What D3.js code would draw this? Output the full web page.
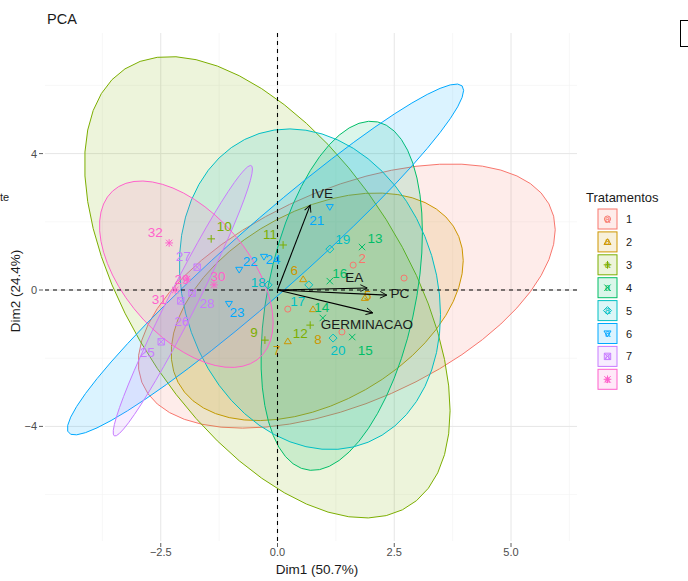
<!DOCTYPE html>
<html>
<head>
<meta charset="utf-8">
<script src="https://cdn.jsdelivr.net/npm/d3@7"></script>
<style>
  html, body { margin: 0; padding: 0; background: #fff; }
  svg { display: block; font-family: "Liberation Sans", Arial, sans-serif; }
</style>
</head>
<body>
<svg id="chart" width="688" height="581"></svg>
<script>
// ---- data -------------------------------------------------------------
const groups = ["1", "2", "3", "4", "5", "6", "7", "8"];
const groupColors = ["#F8766D", "#CD9600", "#7CAE00", "#00BE67", "#00BFC4", "#00A9FF", "#C77CFF", "#FF61CC"];

// individuals (Dim1, Dim2) and their treatment
const indNames = ["1","2","3","4","5","6","7","8","9","10","11","12","13","14","15","16",
                  "17","18","19","20","21","22","23","24","25","26","27","28","29","30","31","32"];
const indGroup = ["1","1","1","1","2","2","2","2","3","3","3","3","4","4","4","4",
                  "5","5","5","5","6","6","6","6","7","7","7","7","8","8","8","8"];
const dim1 = [2.71, 1.62, 1.38, 0.22, 1.87, 0.55, 0.22, 0.76, -0.27, -1.42, 0.12, 0.70, 1.81, 0.97, 1.60, 1.12,
              0.67, -0.20, 1.12, 1.19, 1.12, -0.82, -1.04, -0.29, -2.49, -2.07, -1.72, -1.83, -1.94, -1.36, -2.19, -2.32];
const dim2 = [0.35, 0.73, -1.23, -0.56, -0.23, 0.32, -1.50, -0.56, -1.47, 1.50, 1.32, -1.03, 1.26, -0.82, -1.38, 0.26,
              0.15, 0.15, 1.20, -1.41, 2.43, 0.59, -0.41, 0.97, -1.52, -0.32, 0.67, -0.09, 0.32, 0.15, 0.00, 1.38];
// which individuals carry a visible text label
const indLabelShown = [false, true, false, false, true, true, true, true, true, true, true, true, true, true, true, true,
                       true, true, true, true, true, true, true, true, true, true, true, true, true, true, true, true];
// repelled label offsets (px) from each point
const indLabelDx = [0, 9, 0, 0, 3, -9, -11, 5, -11, 13, -13, -10, 13, -1, 13, 10,
                    -11, -10, 13, 5, -13, 11, 8, 9, -14, 1, -14, 15, -5, 4, -16, -14];
const indLabelDy = [0, -7, 0, 0, -2, -9, 9, 30, -8, -12, -10, 8, -9, -10, 13, -8,
                    17, -2, -10, 12, 13, -8, 9, 3, 11, 21, -11, 10, 0, -8, 9, -10];

// variable loadings (arrows)
const varNames = ["IVE", "EA", "PC", "GERMINACAO"];
const varDim1 = [0.70, 1.92, 2.34, 2.04];
const varDim2 = [2.49, 0.06, -0.15, -0.67];
const varLabelDx = [12, -13, 13, -6];
const varLabelDy = [-12, -10, -2, 12];

const xTicks = [-2.5, 0, 2.5, 5];
const yTicks = [-4, 0, 4];
const xTitle = "Dim1 (50.7%)";
const yTitle = "Dim2 (24.4%)";
const chartTitle = "PCA";
const legendTitle = "Tratamentos";

// ---- layout -----------------------------------------------------------
const svg = d3.select("#chart");
const panel = { left: 45, right: 577, top: 33, bottom: 541 };
const pxPerX = 46.7, pxPerY = 34.1, x0px = 277.5, y0px = 290;

const x = d3.scaleLinear()
  .domain([(panel.left - x0px) / pxPerX, (panel.right - x0px) / pxPerX])
  .range([panel.left, panel.right]);
const y = d3.scaleLinear()
  .domain([(y0px - panel.bottom) / pxPerY, (y0px - panel.top) / pxPerY])
  .range([panel.bottom, panel.top]);
const color = d3.scaleOrdinal().domain(groups).range(groupColors);

const clipId = "panel-clip";
svg.append("defs").append("clipPath").attr("id", clipId)
  .append("rect").attr("x", panel.left).attr("y", panel.top)
  .attr("width", panel.right - panel.left).attr("height", panel.bottom - panel.top);

// grid (theme_minimal)
const grid = svg.append("g");
const xMinor = d3.range(-3.75, 6.5, 2.5);
const yMinor = [-6, -2, 2, 6];
grid.selectAll(".gxm").data(xMinor).join("line")
  .attr("x1", d => x(d)).attr("x2", d => x(d)).attr("y1", panel.top).attr("y2", panel.bottom)
  .attr("stroke", "#F2F2F2").attr("stroke-width", 0.6);
grid.selectAll(".gym").data(yMinor).join("line")
  .attr("y1", d => y(d)).attr("y2", d => y(d)).attr("x1", panel.left).attr("x2", panel.right)
  .attr("stroke", "#F2F2F2").attr("stroke-width", 0.6);
grid.selectAll(".gx").data(xTicks).join("line")
  .attr("x1", d => x(d)).attr("x2", d => x(d)).attr("y1", panel.top).attr("y2", panel.bottom)
  .attr("stroke", "#E6E6E6").attr("stroke-width", 1);
grid.selectAll(".gy").data(yTicks).join("line")
  .attr("y1", d => y(d)).attr("y2", d => y(d)).attr("x1", panel.left).attr("x2", panel.right)
  .attr("stroke", "#E6E6E6").attr("stroke-width", 1);

// ---- concentration ellipses (stat_ellipse, type "norm", level 0.95) -----
const points = indNames.map((n, i) => ({ name: n, group: indGroup[i], x: dim1[i], y: dim2[i],
  show: indLabelShown[i], dx: indLabelDx[i], dy: indLabelDy[i] }));

function ellipseFor(pts) {
  const n = pts.length;
  const mx = d3.mean(pts, p => p.x), my = d3.mean(pts, p => p.y);
  let sxx = 0, syy = 0, sxy = 0;
  pts.forEach(p => { sxx += (p.x - mx) ** 2; syy += (p.y - my) ** 2; sxy += (p.x - mx) * (p.y - my); });
  sxx /= (n - 1); syy /= (n - 1); sxy /= (n - 1);
  // F quantile qf(0.95, 2, n - 1) for n = 4 -> 9.552094
  const qf = { 3: 9.552094, 4: 6.944272, 5: 5.786135 }[n - 1] || 5.99 / 2;
  const radius = Math.sqrt(2 * qf);
  const r11 = Math.sqrt(sxx), r12 = sxy / r11, r22 = Math.sqrt(Math.max(syy - r12 * r12, 0));
  const seg = 51;
  return d3.range(seg + 1).map(k => {
    const a = k * 2 * Math.PI / seg, c = Math.cos(a), s = Math.sin(a);
    return [mx + radius * (c * r11), my + radius * (c * r12 + s * r22)];
  });
}

const ellG = svg.append("g").attr("clip-path", `url(#${clipId})`);
const line = d3.line().x(d => x(d[0])).y(d => y(d[1]));
groups.forEach(g => {
  const pts = points.filter(p => p.group === g);
  ellG.append("path").datum(ellipseFor(pts))
    .attr("d", d => line(d) + "Z")
    .attr("fill", color(g)).attr("fill-opacity", 0.14)
    .attr("stroke", color(g)).attr("stroke-width", 1);
});

// reference lines
svg.append("line").attr("x1", x(0)).attr("x2", x(0)).attr("y1", panel.top).attr("y2", panel.bottom)
  .attr("stroke", "#000").attr("stroke-width", 1.1).attr("stroke-dasharray", "4,4");
svg.append("line").attr("y1", y(0)).attr("y2", y(0)).attr("x1", panel.left).attr("x2", panel.right)
  .attr("stroke", "#000").attr("stroke-width", 1.1).attr("stroke-dasharray", "4,4");

// ---- point shapes (R pch 1..8) ----------------------------------------
function shapePath(idx, s) {
  const h = s;
  switch (idx) {
    case 0: return d3.arc()({ innerRadius: 0, outerRadius: h * 0.95, startAngle: 0, endAngle: 2 * Math.PI });
    case 1: return `M0,${-h}L${h * 1.1},${h * 0.8}L${-h * 1.1},${h * 0.8}Z`;
    case 2: return `M${-h * 1.2},0L${h * 1.2},0M0,${-h * 1.2}L0,${h * 1.2}`;
    case 3: return `M${-h},${-h}L${h},${h}M${-h},${h}L${h},${-h}`;
    case 4: return `M0,${-h * 1.25}L${h * 1.25},0L0,${h * 1.25}L${-h * 1.25},0Z`;
    case 5: return `M0,${h}L${h * 1.1},${-h * 0.8}L${-h * 1.1},${-h * 0.8}Z`;
    case 6: return `M${-h},${-h}H${h}V${h}H${-h}ZM${-h},${-h}L${h},${h}M${-h},${h}L${h},${-h}`;
    case 7: return `M${-h * 1.2},0L${h * 1.2},0M0,${-h * 1.2}L0,${h * 1.2}M${-h},${-h}L${h},${h}M${-h},${h}L${h},${-h}`;
  }
}

const ptG = svg.append("g");
ptG.selectAll("path").data(points).join("path")
  .attr("transform", d => `translate(${x(d.x)},${y(d.y)})`)
  .attr("d", d => shapePath(groups.indexOf(d.group), 3.2))
  .attr("fill", "none").attr("stroke", d => color(d.group)).attr("stroke-width", 1);

ptG.selectAll("text").data(points.filter(p => p.show)).join("text")
  .attr("x", d => x(d.x) + d.dx).attr("y", d => y(d.y) + d.dy)
  .attr("text-anchor", "middle").attr("dominant-baseline", "central")
  .attr("font-size", 13.5).attr("fill", d => color(d.group))
  .text(d => d.name);

// ---- variable arrows ----------------------------------------------------
svg.append("defs").append("marker").attr("id", "arrowHead")
  .attr("viewBox", "-10 -6 12 12").attr("refX", 0).attr("refY", 0)
  .attr("markerWidth", 9).attr("markerHeight", 9).attr("markerUnits", "userSpaceOnUse")
  .attr("orient", "auto")
  .append("path").attr("d", "M-9,-4.5L0,0L-9,4.5").attr("fill", "none").attr("stroke", "#000").attr("stroke-width", 1.2);

const vars = varNames.map((n, i) => ({ name: n, x: varDim1[i], y: varDim2[i], dx: varLabelDx[i], dy: varLabelDy[i] }));
const varG = svg.append("g");
varG.selectAll("line").data(vars).join("line")
  .attr("x1", x(0)).attr("y1", y(0)).attr("x2", d => x(d.x)).attr("y2", d => y(d.y))
  .attr("stroke", "#000").attr("stroke-width", 1.1).attr("marker-end", "url(#arrowHead)");
varG.selectAll("text").data(vars).join("text")
  .attr("x", d => x(d.x) + d.dx).attr("y", d => y(d.y) + d.dy)
  .attr("text-anchor", "middle").attr("dominant-baseline", "central")
  .attr("font-size", 13.5).attr("fill", "#1a1a1a").text(d => d.name);

// ---- axes --------------------------------------------------------------
const axisText = "#4D4D4D";
svg.selectAll(".xt").data(xTicks).join("line")
  .attr("x1", d => x(d)).attr("x2", d => x(d)).attr("y1", panel.bottom + 2).attr("y2", panel.bottom + 6)
  .attr("stroke", "#333").attr("stroke-width", 0.8);
svg.selectAll(".xl").data(xTicks).join("text")
  .attr("x", d => x(d)).attr("y", panel.bottom + 15)
  .attr("text-anchor", "middle").attr("font-size", 11).attr("fill", axisText)
  .text(d => d3.format(".1f")(d));
svg.selectAll(".yt").data(yTicks).join("line")
  .attr("y1", d => y(d)).attr("y2", d => y(d)).attr("x1", panel.left - 6).attr("x2", panel.left - 2)
  .attr("stroke", "#333").attr("stroke-width", 0.8);
svg.selectAll(".yl").data(yTicks).join("text")
  .attr("x", panel.left - 8).attr("y", d => y(d)).attr("dominant-baseline", "central")
  .attr("text-anchor", "end").attr("font-size", 11).attr("fill", axisText)
  .text(d => d3.format("d")(d));

svg.append("text").attr("x", (panel.left + panel.right) / 2 + 6).attr("y", 574)
  .attr("text-anchor", "middle").attr("font-size", 13.5).attr("fill", "#1a1a1a").text(xTitle);
svg.append("text").attr("transform", `translate(20,${(panel.top + panel.bottom) / 2 + 4}) rotate(-90)`)
  .attr("text-anchor", "middle").attr("font-size", 13.5).attr("fill", "#1a1a1a").text(yTitle);
svg.append("text").attr("x", 47).attr("y", 24).attr("font-size", 14.5).attr("fill", "#1a1a1a").text(chartTitle);

// ---- legend ------------------------------------------------------------
const lg = svg.append("g").attr("transform", "translate(586,0)");
lg.append("text").attr("x", 0).attr("y", 202).attr("font-size", 13).attr("fill", "#1a1a1a").text(legendTitle);
const key = lg.selectAll(".key").data(groups).join("g")
  .attr("transform", (d, i) => `translate(12,${209 + i * 22.9})`);
key.append("rect").attr("x", 0).attr("y", 0).attr("width", 19).attr("height", 20)
  .attr("fill", d => color(d)).attr("fill-opacity", 0.14)
  .attr("stroke", d => color(d)).attr("stroke-width", 1);
key.append("path").attr("transform", "translate(9.5,10)")
  .attr("d", (d, i) => shapePath(i, 3.2)).attr("fill", "none")
  .attr("stroke", d => color(d)).attr("stroke-width", 1);
key.append("text").attr("x", 9.5).attr("y", 10).attr("text-anchor", "middle")
  .attr("dominant-baseline", "central").attr("font-size", 10).attr("font-weight", "bold")
  .attr("fill", d => color(d)).attr("fill-opacity", 0.75).text("a");
key.append("text").attr("x", 28).attr("y", 10).attr("dominant-baseline", "central")
  .attr("font-size", 11).attr("fill", "#1a1a1a").text(d => d);

// edge fragments of neighbouring content
svg.append("rect").attr("x", 680.5).attr("y", 20.5).attr("width", 20).attr("height", 26)
  .attr("fill", "none").attr("stroke", "#000").attr("stroke-width", 1);
svg.append("text").attr("x", 0).attr("y", 201).attr("text-anchor", "start").attr("font-size", 11)
  .attr("fill", "#1a1a1a").text("te");
</script>
</body>
</html>
